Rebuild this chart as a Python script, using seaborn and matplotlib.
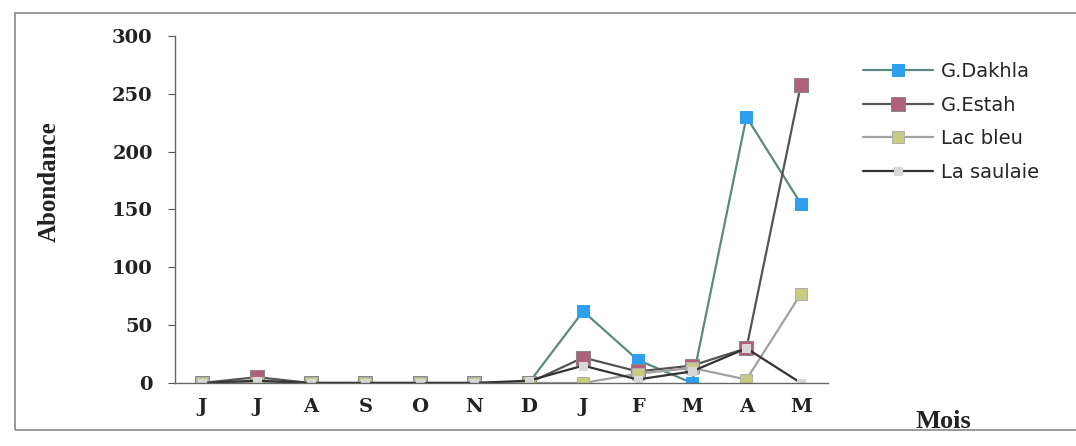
import matplotlib
matplotlib.use("Agg")
import matplotlib.pyplot as plt
import seaborn as sns
import pandas as pd
from matplotlib.patches import Rectangle

months = ["J", "J", "A", "S", "O", "N", "D", "J", "F", "M", "A", "M"]
g_dakhla = [0, 0, 0, 0, 0, 0, 0, 62, 20, 0, 230, 155]
g_estah = [0, 5, 0, 0, 0, 0, 0, 22, 10, 15, 30, 258]
lac_bleu = [0, 0, 0, 0, 0, 0, 0, 0, 8, 13, 3, 77]
la_saulaie = [0, 2, 0, 0, 0, 0, 2, 15, 3, 10, 30, 0]
series_names = ["G.Dakhla", "G.Estah", "Lac bleu", "La saulaie"]

sns.set_theme(style="white")

rows = []
for name, vals in zip(series_names, [g_dakhla, g_estah, lac_bleu, la_saulaie]):
    for i, v in enumerate(vals):
        rows.append({"site": name, "idx": i, "Abondance": v})
df = pd.DataFrame(rows)

styles = {
    "G.Dakhla": dict(color="#5a8a80", mfc="#2f9ff0", mec="#2f9ff0", ms=8),
    "G.Estah": dict(color="#555555", mfc="#b0607a", mec="#888888", ms=10),
    "Lac bleu": dict(color="#a0a0a0", mfc="#c8cc80", mec="#b0b0b0", ms=8),
    "La saulaie": dict(color="#333333", mfc="#d8d8d8", mec="#d8d8d8", ms=6),
}

fig = plt.figure(figsize=(10.76, 4.46), dpi=100)
ax = fig.add_axes([0.1626, 0.1413, 0.607, 0.778])

for name in series_names:
    st = styles[name]
    sns.lineplot(data=df[df["site"] == name], x="idx", y="Abondance", ax=ax,
                 color=st["color"], linewidth=1.6, marker="s",
                 markerfacecolor=st["mfc"], markeredgecolor=st["mec"],
                 markersize=st["ms"], label=name, legend=False)

ax.set_xlim(-0.5, 11.5)
ax.set_ylim(0, 300)
ax.set_yticks(range(0, 301, 50))
ax.set_xticks(range(len(months)))
ax.set_xticklabels(months)
for lab in ax.get_xticklabels() + ax.get_yticklabels():
    lab.set_fontfamily("DejaVu Serif")
    lab.set_fontweight("bold")
    lab.set_fontsize(14)
    lab.set_color("#222222")
ax.tick_params(axis="y", left=True, length=5, width=0.8, colors="#555555",
               labelcolor="#222222", pad=11)
ax.tick_params(axis="x", bottom=False, pad=5)
ax.set_xlabel("")
ax.set_ylabel("Abondance", fontfamily="Liberation Serif", fontweight="bold",
              fontsize=18, color="#222222")
ax.yaxis.set_label_coords(-0.175, 0.58)
for side in ["top", "right"]:
    ax.spines[side].set_visible(False)
for side in ["left", "bottom"]:
    ax.spines[side].set_color("#666666")
    ax.spines[side].set_linewidth(1.0)

fig.text(0.851, 0.04, "Mois", fontfamily="Liberation Serif", fontweight="bold",
         fontsize=19, color="#222222")

handles, labels = ax.get_legend_handles_labels()
fig.legend(handles, labels, loc="upper left", bbox_to_anchor=(0.786, 0.9),
           frameon=False, handlelength=3.6, handletextpad=0.4,
           labelspacing=0.75,
           prop={"family": "DejaVu Sans", "size": 14})

fig.patches.append(Rectangle((0.014, 0.035), 0.99, 0.935, transform=fig.transFigure,
                             fill=False, edgecolor="#888888", linewidth=1.2))

fig.savefig("out.png", dpi=100, facecolor="white")
